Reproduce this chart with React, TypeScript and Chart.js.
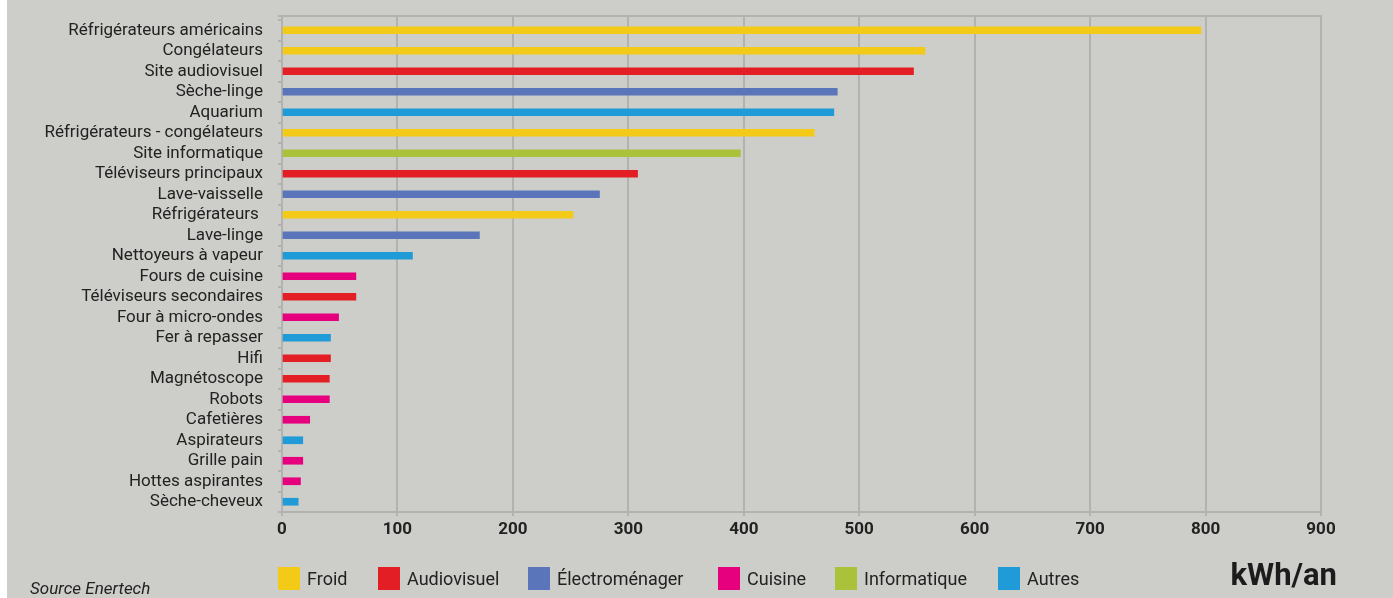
import React, { useEffect, useRef } from "react";
import { Chart, registerables } from "chart.js";

Chart.register(...registerables);

const categories = [
  "Réfrigérateurs américains",
  "Congélateurs",
  "Site audiovisuel",
  "Sèche-linge",
  "Aquarium",
  "Réfrigérateurs - congélateurs",
  "Site informatique",
  "Téléviseurs principaux",
  "Lave-vaisselle",
  "Réfrigérateurs ",
  "Lave-linge",
  "Nettoyeurs à vapeur",
  "Fours de cuisine",
  "Téléviseurs secondaires",
  "Four à micro-ondes",
  "Fer à repasser",
  "Hifi",
  "Magnétoscope",
  "Robots",
  "Cafetières",
  "Aspirateurs",
  "Grille pain",
  "Hottes aspirantes",
  "Sèche-cheveux",
];

const values = [796, 557, 547, 481, 478, 461, 397, 308, 275, 252, 171, 113, 64, 64, 49, 42, 42, 41, 41, 24, 18, 18, 16, 14];

// index into groupNames for each category
const groupOf = [0, 0, 1, 2, 5, 0, 4, 1, 2, 0, 2, 5, 3, 1, 3, 5, 1, 1, 3, 3, 5, 3, 3, 5];

const groupNames = ["Froid", "Audiovisuel", "Électroménager", "Cuisine", "Informatique", "Autres"];
const groupColors = ["#F2CA17", "#E31E24", "#5B75BA", "#E6007E", "#A9C23A", "#1F9BD7"];

const xTicks = [0, 100, 200, 300, 400, 500, 600, 700, 800, 900];
const unitLabel = "kWh/an";
const sourceLabel = "Source Enertech";

const FONT = "Roboto, 'DejaVu Sans', sans-serif";
const GRID = "#B2B3B0";
const TEXT = "#222222";

const legendBoxX = [278, 378, 528, 718, 835, 998];

const extrasPlugin = {
  id: "extras",
  afterDraw(chart: any) {
    const ctx = chart.ctx;
    const area = chart.chartArea;
    ctx.save();
    // top frame line (slightly above the category band)
    ctx.strokeStyle = GRID;
    ctx.lineWidth = 2;
    ctx.beginPath();
    ctx.moveTo(area.left - 4, area.top - 4);
    ctx.lineTo(area.right + 1, area.top - 4);
    ctx.stroke();
    // legend
    groupNames.forEach((name, i) => {
      const x = legendBoxX[i];
      ctx.fillStyle = groupColors[i];
      ctx.fillRect(x, 567, 22, 23);
      ctx.fillStyle = TEXT;
      ctx.font = `18px ${FONT}`;
      ctx.textAlign = "left";
      ctx.textBaseline = "alphabetic";
      ctx.fillText(name, x + 29, 585);
    });
    // unit
    ctx.font = `bold 31px ${FONT}`;
    ctx.textAlign = "right";
    ctx.fillStyle = "#1c1c1c";
    ctx.fillText(unitLabel, 1337, 585);
    // source
    ctx.font = `italic 17px ${FONT}`;
    ctx.textAlign = "left";
    ctx.fillStyle = TEXT;
    ctx.fillText(sourceLabel, 30, 594);
    ctx.restore();
  },
};

export default function App() {
  const ref = useRef<HTMLCanvasElement | null>(null);

  useEffect(() => {
    if (!ref.current) return;
    const chart = new Chart(ref.current, {
      type: "bar",
      data: {
        labels: categories,
        datasets: [
          {
            data: values,
            backgroundColor: groupOf.map((g) => groupColors[g]),
            barThickness: 7,
            borderWidth: 0,
          },
        ],
      },
      options: {
        indexAxis: "y",
        animation: false,
        responsive: false,
        devicePixelRatio: 1,
        layout: { padding: { left: 0, right: 72, top: 0, bottom: 0 } },
        plugins: {
          legend: { display: false },
          tooltip: { enabled: false },
        },
        scales: {
          x: {
            type: "linear",
            position: "bottom",
            min: xTicks[0],
            max: xTicks[xTicks.length - 1],
            afterBuildTicks: (scale: any) => {
              scale.ticks = xTicks.map((v) => ({ value: v }));
            },
            ticks: {
              color: TEXT,
              font: { family: FONT, size: 17, weight: "bold" },
              padding: 4,
            },
            grid: { color: GRID, lineWidth: 2, tickLength: 4 },
            border: { display: true, color: GRID, width: 2 },
            afterFit: (scale: any) => {
              scale.height = 86;
              scale.paddingLeft = 0;
              scale.paddingRight = 0;
            },
          },
          xTop: {
            type: "linear",
            position: "top",
            display: true,
            min: xTicks[0],
            max: xTicks[xTicks.length - 1],
            afterBuildTicks: (scale: any) => {
              scale.ticks = xTicks.map((v) => ({ value: v }));
            },
            grid: { display: true, drawOnChartArea: false, color: GRID, lineWidth: 2, tickLength: 5 },
            ticks: { display: false },
            border: { display: false },
            afterFit: (scale: any) => {
              scale.height = 20;
              scale.paddingLeft = 0;
              scale.paddingRight = 0;
            },
          },
          y: {
            type: "category",
            grid: { offset: true, drawOnChartArea: false, color: GRID, lineWidth: 2, tickLength: 4 },
            border: { display: true, color: GRID, width: 2 },
            ticks: {
              color: TEXT,
              font: { family: FONT, size: 17 },
              padding: 15,
              autoSkip: false,
            },
            afterFit: (scale: any) => {
              scale.width = 282;
              scale.paddingTop = 0;
              scale.paddingBottom = 0;
            },
          },
        },
      },
      plugins: [extrasPlugin],
    } as any);
    return () => chart.destroy();
  }, []);

  return (
    <div style={{ position: "fixed", left: 0, top: 0, width: 1393, height: 598, background: "#ffffff", overflow: "hidden" }}>
      <div style={{ position: "absolute", left: 7, top: 0, right: 0, bottom: 0, background: "#CDCEC9" }} />
      <canvas ref={ref} width={1393} height={598} style={{ position: "absolute", left: 0, top: 0, width: 1393, height: 598 }} />
    </div>
  );
}
